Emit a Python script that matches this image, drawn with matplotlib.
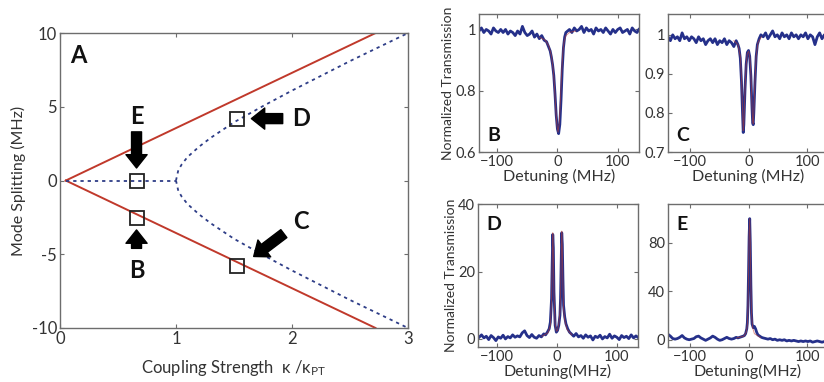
import matplotlib
matplotlib.use("Agg")
from matplotlib import pyplot as plt

plt.rcParams['font.family'] = ['Lato', 'DejaVu Sans']
plt.rcParams['mathtext.fontset'] = 'custom'
plt.rcParams['mathtext.rm'] = 'Lato'
plt.rcParams['mathtext.it'] = 'Lato'

TEXT = '#333333'
SPINE = '#6d6d6d'
RED = '#c0392b'
NAVY = '#2e3d87'
DATA_BLUE = '#25308a'

# ---- panel A: mode splitting vs coupling strength ----
red_x = [0.05, 2.72]
red_upper = [0.0, 10.0]
red_lower = [0.0, -10.0]

flat_x = [0.05, 1.0]
flat_y = [0.0, 0.0]
branch_x = [1.0, 1.02, 1.05, 1.1, 1.2, 1.3, 1.5, 1.75, 2.0, 2.25, 2.5, 2.75, 3.0]
branch_up = [0.0, 0.7, 1.1, 1.6, 2.3, 2.9, 3.95, 5.05, 6.1, 7.1, 8.1, 9.05, 10.0]
branch_down = [-v for v in branch_up]

square_x = [0.66, 0.66, 1.53, 1.53]
square_y = [0.0, -2.57, 4.2, -5.8]

# ---- panels B-E: transmission spectra (detuning in MHz) ----
b_x = [-130, -126, -122, -118, -114, -110, -106, -102, -98, -94, -90, -86, -82, -78, -74,
       -70, -66, -62, -58, -54, -50, -46, -42, -38, -34, -30, -26, -22, -18,
       -15, -12, -10, -8, -6, -4, -2, 0, 2, 4, 6, 8, 10, 12, 14,
       17, 20,
       24, 28, 32, 36, 40, 44, 48, 52, 56, 60, 64, 68, 72, 76, 80, 84, 88, 92, 96, 100,
       104, 108, 112, 116, 120, 124, 128, 132,
       135]
b_y = [0.995, 1.005, 0.99, 1.0, 0.995, 0.985, 1.005, 0.995, 0.99, 1.0, 0.99, 1.0, 0.985, 0.995, 0.99,
       0.98, 0.995, 0.985, 1.01, 0.99, 0.98, 0.985, 0.995, 0.975, 0.985, 0.97, 0.98, 0.965, 0.96,
       0.945, 0.93, 0.91, 0.885, 0.85, 0.79, 0.72, 0.675, 0.66, 0.69, 0.77, 0.87, 0.94, 0.975, 0.99,
       0.995, 1.0,
       0.99, 1.005, 0.995, 1.0, 1.01, 0.99, 1.005, 0.995, 1.0, 0.985, 1.005, 0.995, 1.0, 0.99, 1.005,
       0.995, 0.985, 1.0, 0.99, 1.0,
       1.005, 0.99, 0.995, 1.0, 0.985, 1.005, 0.995, 0.99,
       1.0]
b_fit_x = [-30, -20, -14, -10, -7, -5, -3, -1, 1, 3, 5, 7, 9, 11, 14, 20, 30]
b_fit_y = [0.975, 0.965, 0.945, 0.915, 0.87, 0.82, 0.75, 0.69, 0.665, 0.695, 0.77, 0.86, 0.925,
           0.96, 0.98, 0.99, 0.995]

c_x = [-137, -133, -129, -125, -121, -117, -113, -109, -105, -101, -97, -93, -89, -85, -81,
       -77, -73, -69, -65, -61, -57, -53, -49, -45, -41, -37, -33, -29, -25, -21,
       -18, -16, -14, -12, -10, -9, -8, -6, -4, -2, 0, 2, 4, 6, 7, 8, 9, 11, 13, 15, 18, 21,
       25, 29, 33, 37, 41, 45, 49, 53, 57, 61, 65, 69, 73, 77, 81, 85, 89, 93, 97, 101,
       105, 109, 113, 117, 121, 125, 129, 133, 137]
c_y = [0.995, 0.985, 1.0, 0.99, 0.995, 0.985, 1.005, 0.99, 0.995, 0.985, 0.995, 0.99, 0.98, 0.995, 0.985,
       0.99, 0.975, 0.985, 0.99, 0.98, 0.99, 0.975, 0.985, 0.98, 0.99, 0.975, 0.985, 0.98, 0.97, 0.985,
       0.975, 0.965, 0.94, 0.88, 0.79, 0.75, 0.77, 0.86, 0.925, 0.955, 0.96, 0.945, 0.895, 0.81, 0.775,
       0.77, 0.8, 0.88, 0.945, 0.975, 0.99, 1.0,
       0.995, 1.005, 0.99, 1.0, 1.01, 0.995, 1.0, 0.99, 1.005, 0.995, 1.0, 0.99, 1.005, 0.995, 1.0,
       0.99, 1.0, 0.995, 1.005, 0.99,
       1.0, 0.995, 0.975, 0.995, 1.005, 0.99, 1.0, 0.995, 1.0]
c_fit_x = [-25, -18, -14, -12, -10, -9, -8, -6, -4, -2, 0, 2, 4, 6, 7, 8, 9, 11, 13, 16, 22]
c_fit_y = [0.985, 0.975, 0.945, 0.89, 0.8, 0.755, 0.77, 0.86, 0.925, 0.952, 0.958, 0.945, 0.9,
           0.815, 0.78, 0.772, 0.8, 0.885, 0.945, 0.98, 0.995]

d_x = [-130, -126, -122, -118, -114, -110, -106, -102, -98, -94, -90, -86, -82, -78,
       -74, -70, -66, -62, -58, -54, -50, -46, -42, -38, -34, -30, -26, -22,
       -19, -16, -13, -11, -9, -8, -7, -6, -5, -3, -1, 1, 3, 5, 6, 7, 8, 9, 10, 11, 13, 15, 18, 21,
       24, 28, 32, 36, 40, 44, 48, 52, 56, 60, 64, 68, 72, 76,
       80, 84, 88, 92, 96, 100, 104, 108, 112, 116, 120, 124, 128, 132,
       135]
d_y = [0.5, 1.2, 0.3, 0.8, -0.2, 1.0, 0.4, -0.5, 0.6, 0.2, 1.1, 0.0, 0.7, 0.3,
       1.2, 0.5, 0.9, 0.6, 1.8, 2.4, 1.0, 0.4, 1.3, 0.5, 0.2, 1.0, 0.6, 1.5,
       1.2, 2.0, 3.0, 5.0, 12.0, 22.0, 31.0, 27.0, 14.0, 4.0, 2.0, 2.5, 4.0, 7.0, 12.0, 22.0,
       31.5, 28.0, 18.0, 10.0, 6.5, 4.5, 3.0, 2.0,
       1.5, 0.8, 1.6, 0.6, 1.0, 0.2, 1.2, 0.5, 0.9, -0.3, 0.8, 0.4, 1.1, 0.0,
       0.7, 0.3, 1.4, 0.2, 0.9, 0.5, -0.2, 1.0, 0.4, 0.8, 0.1, 1.2, 0.3, 0.9,
       0.5]
d_fit_x = [-25, -15, -11, -9, -8, -7, -6, -5, -3, -1, 1, 3, 5, 6, 7, 8, 9, 10, 11, 13, 17, 25]
d_fit_y = [0.8, 1.8, 4, 12, 22, 31.5, 26, 13, 4.5, 2.3, 2.5, 4.5, 8, 13, 23, 32, 27, 16, 9, 5.5,
           2.8, 1.2]

e_x = [-137, -133, -129, -125, -121, -117, -113, -109, -105, -101, -97, -93, -89, -85, -81,
       -77, -73, -69, -65, -61, -57, -53, -49, -45, -41, -37, -33, -29, -25, -21,
       -18, -15, -12, -9, -7, -5, -3, -2, -1, 0, 1, 2, 3, 4, 5, 6, 8, 10, 12, 14, 16, 19, 22,
       25, 29, 33, 37, 41, 45, 49, 53, 57, 61, 65, 69, 73, 77, 81,
       85, 89, 93, 97, 101, 105, 109, 113, 117, 121, 125, 129, 133, 137]
e_y = [4.5, 3.0, 1.0, 0.5, 1.0, 2.0, 3.5, 1.5, 0.5, 0.0, 0.5, 1.0, 2.5, 3.0, 1.5,
       0.5, -0.5, 0.5, 1.5, 3.0, 2.0, 0.5, -0.5, 0.0, 1.0, 2.0, 1.0, 0.5, 1.0, 2.0,
       1.5, 2.0, 2.5, 3.0, 3.5, 5.0, 9.0, 14.0, 28.0, 55.0, 85.0, 100.0, 80.0, 45.0, 22.0, 13.0,
       10.0, 11.0, 9.0, 6.0, 4.0, 3.0, 2.0,
       1.5, 1.0, 0.5, 1.0, 0.0, 0.5, -0.5, 0.0, -0.5, 0.0, -1.0, -0.5, -1.0, -0.5, -1.0,
       -1.5, -1.0, -1.5, -1.0, -1.5, -1.0, -2.0, -1.5, -1.0, -1.5, -2.0, -1.5, -1.0, -1.5]
e_fit_x = [-20, -8, -4, -2, -1, 0, 1, 2, 3, 4, 5, 7, 10, 20]
e_fit_y = [1.5, 3, 6, 12, 25, 55, 88, 100, 82, 45, 22, 10, 5, 2]


def style_axes(ax, labelsize):
    for sp in ax.spines.values():
        sp.set_color(SPINE)
        sp.set_linewidth(1.0)
    ax.tick_params(direction='in', top=True, right=True, length=3, width=0.8,
                   color=SPINE, labelcolor=TEXT, labelsize=labelsize, pad=2)


fig = plt.figure(figsize=(8.24, 3.82), dpi=100)

# big panel A
ax = fig.add_axes([0.0728, 0.1414, 0.4223, 0.772])
ax.plot(red_x, red_upper, color=RED, lw=1.4)
ax.plot(red_x, red_lower, color=RED, lw=1.4)
dots = (0, (1.8, 2.2))
ax.plot(flat_x, flat_y, color=NAVY, lw=1.3, ls=dots)
ax.plot(branch_x, branch_up, color=NAVY, lw=1.3, ls=dots)
ax.plot(branch_x, branch_down, color=NAVY, lw=1.3, ls=dots)
ax.plot(square_x, square_y, ls='none', marker='s', ms=10, mfc='none', mec='#222222', mew=1.3)

arrow = dict(arrowstyle='simple,head_length=0.6,head_width=0.95,tail_width=0.45',
             color='black', shrinkA=0, shrinkB=0, mutation_scale=16)
ax.annotate('', xy=(0.66, 0.85), xytext=(0.66, 3.3), arrowprops=arrow)    # E
ax.annotate('', xy=(0.66, -3.35), xytext=(0.66, -4.6), arrowprops=arrow)  # B
ax.annotate('', xy=(1.65, 4.2), xytext=(1.92, 4.2), arrowprops=arrow)     # D
ax.annotate('', xy=(1.67, -5.15), xytext=(1.93, -3.6), arrowprops=arrow)  # C

big = dict(fontsize=17, fontweight='bold', color='#111111', ha='center', va='center')
ax.text(0.16, 8.5, 'A', **big)
ax.text(0.66, 4.35, 'E', **big)
ax.text(0.66, -6.1, 'B', **big)
ax.text(2.08, 4.2, 'D', **big)
ax.text(2.08, -2.75, 'C', **big)

ax.set_xlim(0, 3)
ax.set_ylim(-10, 10)
ax.set_xticks([0, 1, 2, 3])
ax.set_yticks([-10, -5, 0, 5, 10])
ax.set_yticklabels(['-10', '-5', '0', '5', '10'])
style_axes(ax, 12)
ax.set_xlabel(r'Coupling Strength  κ /κ$_{PT}$', fontsize=12, color=TEXT, labelpad=8)
ax.set_ylabel('Mode Splitting (MHz)', fontsize=11.5, color=TEXT, labelpad=4)

# small spectra panels
w, h_top, h_bot = 0.194, 0.361, 0.374
panels = [
    ([0.5813, 0.602, w, h_top], b_x, b_y, b_fit_x, b_fit_y, (-130, 135), (0.6, 1.05),
     [0.6, 0.8, 1.0], ['0.6', '0.8', '1'], 'B', 'Detuning (MHz)', 'bottom'),
    ([0.8107, 0.602, w, h_top], c_x, c_y, c_fit_x, c_fit_y, (-137, 135), (0.7, 1.053),
     [0.7, 0.8, 0.9, 1.0], ['0.7', '0.8', '0.9', '1'], 'C', 'Detuning (MHz)', 'bottom'),
    ([0.58, 0.0916, w, h_bot], d_x, d_y, d_fit_x, d_fit_y, (-132, 135), (-2.4, 40),
     [0, 20, 40], ['0', '20', '40'], 'D', 'Detuning(MHz)', 'top'),
    ([0.8107, 0.0916, w, h_bot], e_x, e_y, e_fit_x, e_fit_y, (-137, 135), (-6, 112),
     [0, 40, 80], ['0', '40', '80'], 'E', 'Detuning(MHz)', 'top'),
]

for rect, xs, ys, fx, fy, xlim, ylim, yt, ytl, letter, xlab, where in panels:
    sub = fig.add_axes(rect)
    sub.plot(xs, ys, color=DATA_BLUE, lw=2.0, solid_joinstyle='round')
    # the fit sits on top of the data and only shows through thinly
    sub.plot(fx, fy, color=RED, lw=0.7, alpha=0.55)
    sub.set_xlim(*xlim)
    sub.set_ylim(*ylim)
    sub.set_xticks([-100, 0, 100])
    sub.set_xticklabels(['\u2212100', '0', '100'])
    sub.set_yticks(yt)
    sub.set_yticklabels(ytl)
    style_axes(sub, 10.5)
    sub.set_xlabel(xlab, fontsize=11.5, color=TEXT, labelpad=0)
    ly = 0.12 if where == 'bottom' else 0.86
    sub.text(0.05, ly, letter, transform=sub.transAxes, fontsize=14, fontweight='bold',
             color='#111111', ha='left', va='center')
    if letter in ('B', 'D'):
        sub.set_ylabel('Normalized Transmission', fontsize=10, color=TEXT, labelpad=1)

fig.savefig('out.png', dpi=100)
